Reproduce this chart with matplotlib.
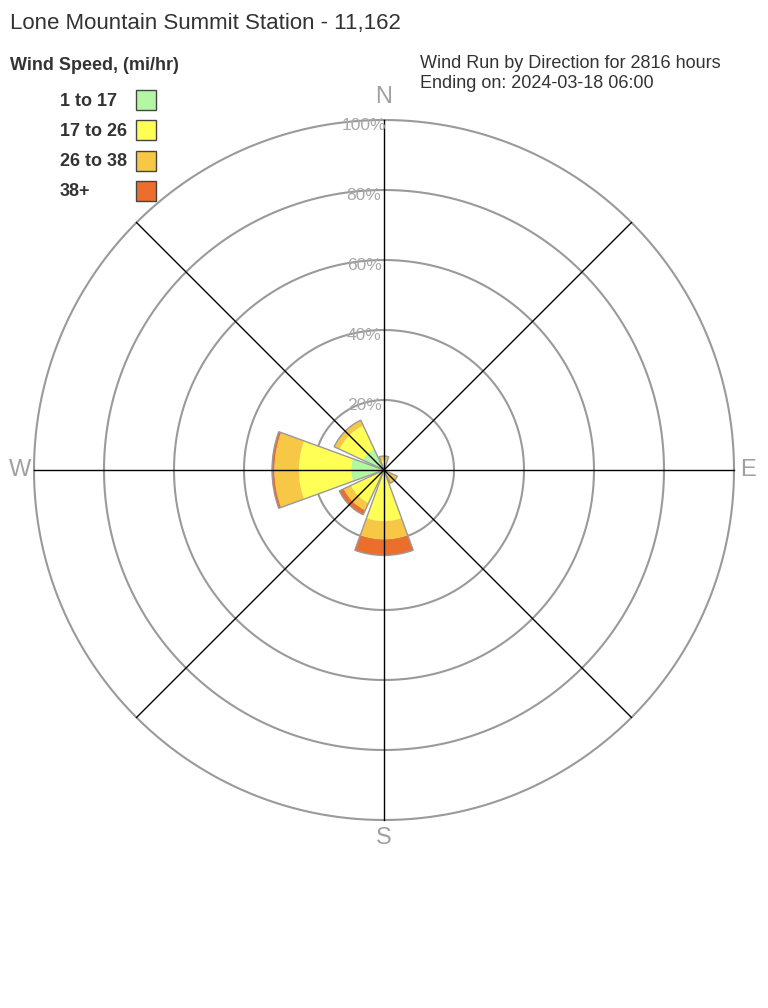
import numpy as np
import matplotlib
matplotlib.use("Agg")
import matplotlib.pyplot as plt

plt.rcParams['font.family'] = ['Liberation Sans', 'DejaVu Sans']

directions = ["N", "NE", "E", "SE", "S", "SW", "W", "NW"]
bearings = [0, 45, 90, 135, 180, 225, 270, 315]
speed_bins = ["1 to 17", "17 to 26", "26 to 38", "38+"]
colors = ["#b3f7a3", "#ffff55", "#f7c845", "#eb6e2d"]
# percent of wind run per direction, per speed bin
green = [1.0, 0, 0, 0.5, 1.5, 1.0, 9.4, 6.6]
yellow = [1.7, 0, 0, 1.5, 13.1, 9.4, 14.9, 7.4]
gold = [1.3, 0, 0, 2.2, 5.3, 2.3, 7.0, 1.7]
red = [0, 0, 0, 0, 4.5, 1.4, 0.7, 0]
series = [green, yellow, gold, red]
rings = [20, 40, 60, 80, 100]
ring_labels = ["20%", "40%", "60%", "80%", "100%"]

W, H = 768, 1008
fig = plt.figure(figsize=(W / 100, H / 100), dpi=100)
cx, cy, R = 384, 470, 350
ax = fig.add_axes([(cx - R) / W, (H - cy - R) / H, 2 * R / W, 2 * R / H], projection='polar')
ax.set_theta_zero_location('N')
ax.set_theta_direction(-1)
ax.set_ylim(0, 100)
ax.set_xticks([])
ax.set_yticks([])
ax.grid(False)
ax.spines['polar'].set_visible(False)
ax.set_facecolor('none')

tt = np.linspace(0, 2 * np.pi, 721)
for r in rings:
    ax.plot(tt, np.full_like(tt, r), color='#9a9a9a', lw=1.5, zorder=1, clip_on=False)

theta = np.radians(bearings)
bottom = np.zeros(len(directions))
for vals, col in zip(series, colors):
    v = np.array(vals, dtype=float)
    mask = v > 0
    ax.bar(theta[mask], v[mask], width=np.radians(40), bottom=bottom[mask],
           color=col, edgecolor='none', linewidth=0, zorder=2, align='center')
    bottom += v
# outline of each wedge
tot = bottom
for th, r in zip(theta, tot):
    if r > 0:
        ax.bar(th, r, width=np.radians(40), bottom=0, fill=False,
               edgecolor='#999999', linewidth=1.0, zorder=3)

for th in theta:
    ax.plot([th, th], [0, 100], color='black', lw=1, zorder=4, clip_on=False)

for r, lab in zip(rings, ring_labels):
    ax.annotate(lab, xy=(0, r), xytext=(-20, -6), textcoords='offset pixels',
                ha='center', va='center', color='#a8a8a8', fontsize=12.5, zorder=5,
                annotation_clip=False)

comp_col = '#a0a0a0'
fig.text(cx / W, 1 - 97 / H, "N", ha='center', va='center', fontsize=17, color=comp_col)
fig.text(cx / W, 1 - 838 / H, "S", ha='center', va='center', fontsize=17, color=comp_col)
fig.text(20 / W, 1 - 470 / H, "W", ha='center', va='center', fontsize=17, color=comp_col)
fig.text(748 / W, 1 - 470 / H, "E", ha='center', va='center', fontsize=17, color=comp_col)

tc = '#333333'
fig.text(10 / W, 1 - 23 / H, "Lone Mountain Summit Station - 11,162", ha='left', va='center',
         fontsize=16, color=tc)
fig.text(10 / W, 1 - 65 / H, "Wind Speed, (mi/hr)", ha='left', va='center',
         fontsize=13, fontweight='bold', color=tc)
fig.text(420 / W, 1 - 64 / H, "Wind Run by Direction for 2816 hours", ha='left', va='center',
         fontsize=13, color=tc)
fig.text(420 / W, 1 - 83 / H, "Ending on: 2024-03-18 06:00", ha='left', va='center',
         fontsize=13, color=tc)

ys = [100, 130, 161, 191]
for lab, col, y in zip(speed_bins, colors, ys):
    fig.text(60 / W, 1 - (y + 1) / H, lab, ha='left', va='center', fontsize=13,
             fontweight='bold', color=tc)
    fig.patches.append(plt.Rectangle((136 / W, 1 - (y + 10) / H), 20 / W, 20 / H,
                                     transform=fig.transFigure, facecolor=col,
                                     edgecolor='#444444', linewidth=1, figure=fig))

fig.savefig("out.png", dpi=100, facecolor='white')
